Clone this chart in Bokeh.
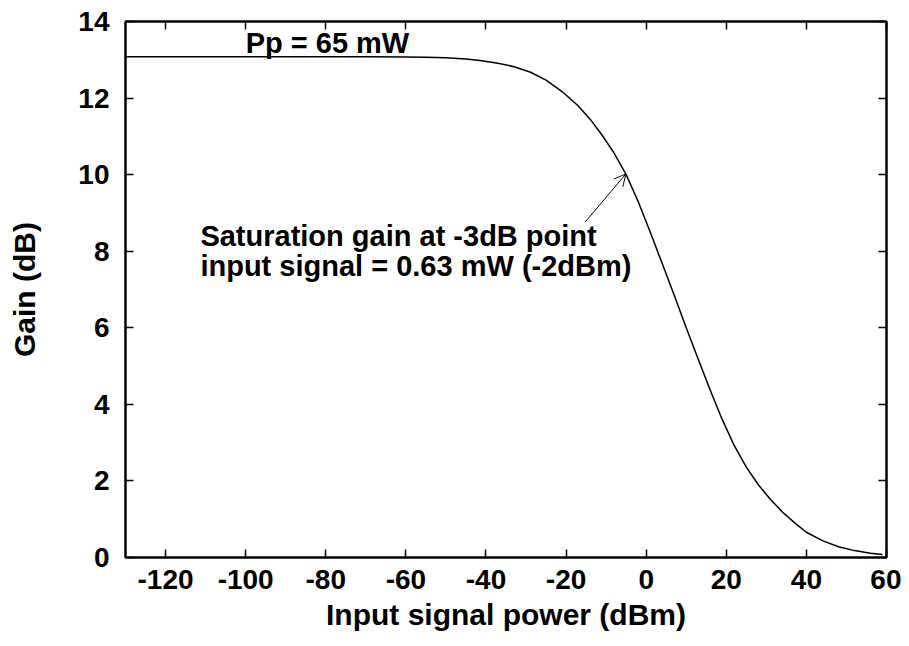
from bokeh.plotting import figure
from bokeh.models import (Range1d, FixedTicker, LinearAxis, Label, Arrow, OpenHead)
from bokeh.embed import file_html
from bokeh.resources import INLINE

# ---- data ----
input_power_dbm = [-130, -70, -60, -55, -50, -45, -41.5, -37, -33, -29, -25, -21,
                   -17, -14, -11, -8, -5, -2, 1, 4, 7, 10, 13, 16, 19, 22, 25,
                   28, 31, 34, 37, 40, 44, 48, 52, 56, 59]
gain_db = [13.08, 13.08, 13.075, 13.065, 13.05, 13.02, 12.98, 12.91, 12.82, 12.68,
           12.47, 12.17, 11.80, 11.45, 11.03, 10.56, 10.0, 9.3, 8.5, 7.68, 6.85,
           6.0, 5.18, 4.37, 3.6, 2.92, 2.36, 1.90, 1.52, 1.19, 0.91, 0.66, 0.44,
           0.28, 0.18, 0.11, 0.08]

x_ticks = [-120, -100, -80, -60, -40, -20, 0, 20, 40, 60]
y_ticks = [0, 2, 4, 6, 8, 10, 12, 14]

pump_label = "Pp = 65 mW"
pump_label_pos = (-100, 13.45)
note_lines = ["Saturation gain at -3dB point", "input signal = 0.63 mW (-2dBm)"]
note_pos = [(-111.3, 8.41), (-111.3, 7.62)]
arrow_start = (-15.25, 8.76)
arrow_end = (-5.05, 10.02)

FONT = "Liberation Sans"

p = figure(width=901, height=643, output_backend="svg", toolbar_location=None,
           x_range=Range1d(-130, 60), y_range=Range1d(0, 14),
           min_border_left=125, min_border_right=15, min_border_top=21,
           min_border_bottom=86)
p.background_fill_color = "white"
p.border_fill_color = "white"
p.outline_line_color = "black"
p.outline_line_width = 2
p.xgrid.visible = False
p.ygrid.visible = False

def style_axis(ax, ticks, show_labels):
    ax.ticker = FixedTicker(ticks=ticks)
    ax.major_label_overrides = {t: str(t) for t in ticks}
    ax.major_tick_in = 8
    ax.major_tick_out = 0
    ax.major_tick_line_color = "black"
    ax.major_tick_line_width = 1.5
    ax.minor_tick_line_color = None
    ax.axis_line_color = "black"
    ax.axis_line_width = 2
    ax.major_label_text_font = FONT
    ax.major_label_text_font_style = "bold"
    ax.major_label_text_color = "black"
    ax.axis_label_text_font = FONT
    ax.axis_label_text_font_style = "bold"
    ax.axis_label_text_font_size = "30px"
    ax.axis_label_text_color = "black"
    if show_labels:
        ax.major_label_text_font_size = "28px"
    else:
        ax.major_label_text_font_size = "0px"
        ax.major_label_standoff = 0

xa = p.xaxis[0]
ya = p.yaxis[0]
style_axis(xa, x_ticks, True)
style_axis(ya, y_ticks, True)
xa.axis_label = "Input signal power (dBm)"
ya.axis_label = "Gain (dB)"
xa.major_label_standoff = 12
ya.major_label_standoff = 16
xa.axis_label_standoff = 6
ya.axis_label_standoff = 34

top = LinearAxis()
style_axis(top, x_ticks, False)
p.add_layout(top, "above")
right = LinearAxis()
style_axis(right, y_ticks, False)
p.add_layout(right, "right")

p.line(input_power_dbm, gain_db, line_color="black", line_width=1.5)

p.add_layout(Label(x=pump_label_pos[0], y=pump_label_pos[1], text=pump_label,
                   text_font=FONT, text_font_style="bold", text_font_size="29px",
                   text_baseline="alphabetic", text_align="left", text_color="black"))
for t, (lx, ly) in zip(note_lines, note_pos):
    p.add_layout(Label(x=lx, y=ly, text=t, text_font=FONT, text_font_style="bold",
                       text_font_size="29px", text_baseline="alphabetic",
                       text_align="left", text_color="black"))

p.add_layout(Arrow(end=OpenHead(size=12, line_width=1, line_color="black"),
                   x_start=arrow_start[0], y_start=arrow_start[1],
                   x_end=arrow_end[0], y_end=arrow_end[1],
                   line_width=1, line_color="black"))

open("out.html", "w").write(file_html(p, INLINE))
